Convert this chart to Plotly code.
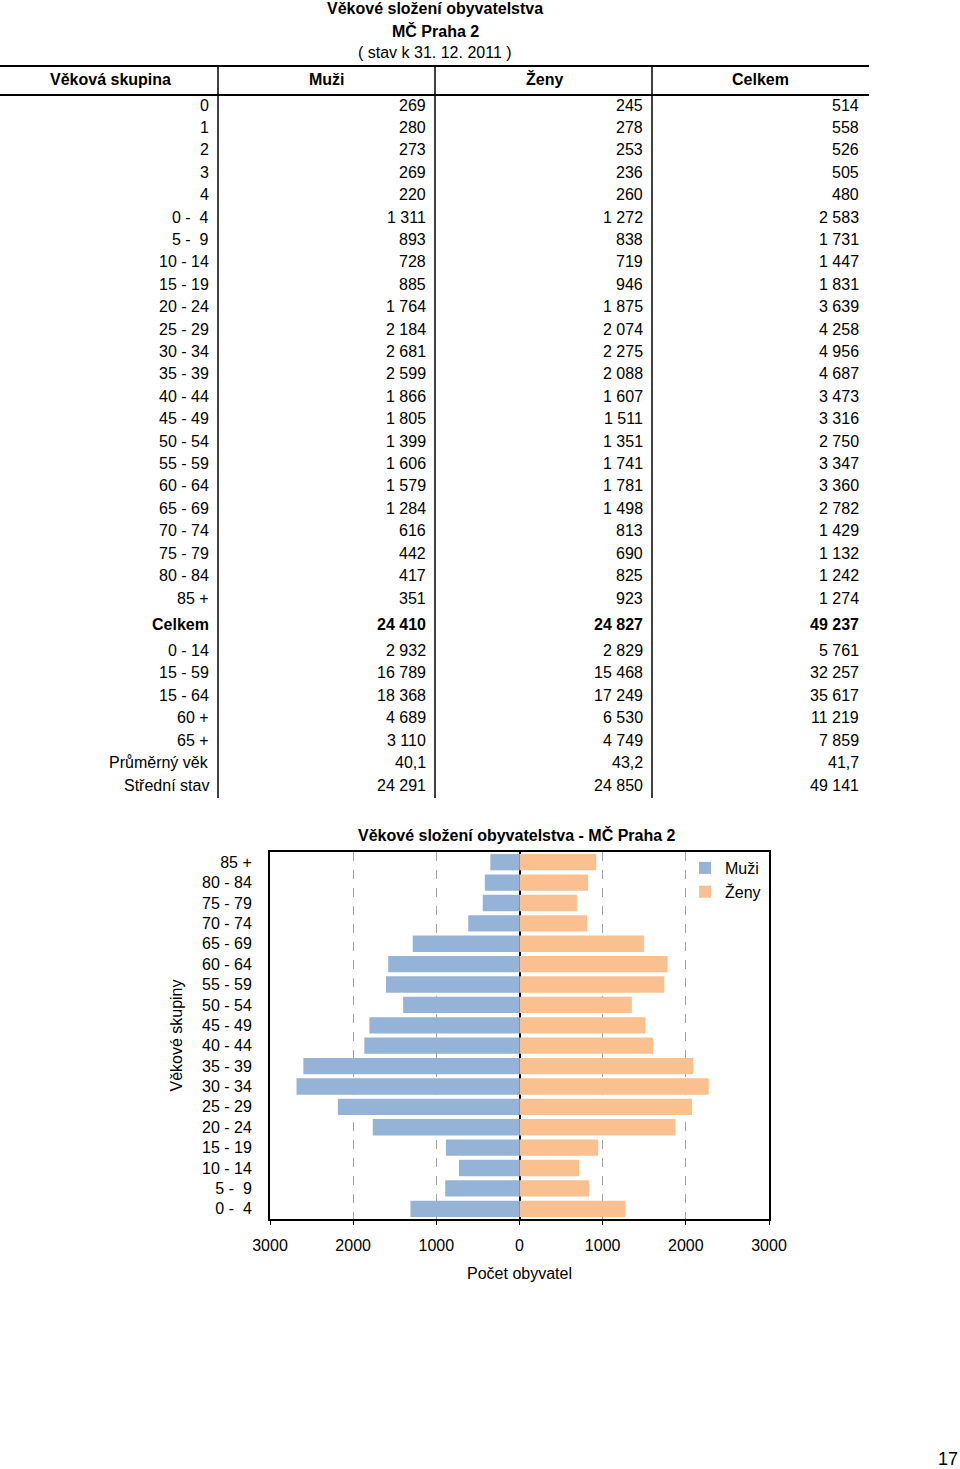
import plotly.graph_objects as go

# ---------------- data ----------------
title_lines = ["Věkové složení obyvatelstva", "MČ Praha 2", "( stav k 31. 12. 2011 )"]
header = ["Věková skupina", "Muži", "Ženy", "Celkem"]

age_labels = ["0", "1", "2", "3", "4",
              "0 -\u00a0\u00a04", "5 -\u00a0\u00a09", "10 - 14", "15 - 19", "20 - 24", "25 - 29",
              "30 - 34", "35 - 39", "40 - 44", "45 - 49", "50 - 54", "55 - 59",
              "60 - 64", "65 - 69", "70 - 74", "75 - 79", "80 - 84", "85 +"]
muzi = [269, 280, 273, 269, 220,
        1311, 893, 728, 885, 1764, 2184, 2681, 2599, 1866, 1805, 1399, 1606,
        1579, 1284, 616, 442, 417, 351]
zeny = [245, 278, 253, 236, 260,
        1272, 838, 719, 946, 1875, 2074, 2275, 2088, 1607, 1511, 1351, 1741,
        1781, 1498, 813, 690, 825, 923]
celkem = [514, 558, 526, 505, 480,
          2583, 1731, 1447, 1831, 3639, 4258, 4956, 4687, 3473, 3316, 2750, 3347,
          3360, 2782, 1429, 1132, 1242, 1274]

total_label = "Celkem"
total_muzi, total_zeny, total_celkem = 24410, 24827, 49237

summary_labels = ["0 - 14", "15 - 59", "15 - 64", "60 +", "65 +", "Průměrný věk", "Střední stav"]
summary_muzi = [2932, 16789, 18368, 4689, 3110, 40.1, 24291]
summary_zeny = [2829, 15468, 17249, 6530, 4749, 43.2, 24850]
summary_celkem = [5761, 32257, 35617, 11219, 7859, 41.7, 49141]

chart_title = "Věkové složení obyvatelstva - MČ Praha 2"
pyramid_groups = age_labels[5:]
pyramid_muzi = muzi[5:]
pyramid_zeny = zeny[5:]
x_ticks = [-3000, -2000, -1000, 0, 1000, 2000, 3000]
x_ticktext = ["3000", "2000", "1000", "0", "1000", "2000", "3000"]
page_number = "17"

# ---------------- layout helpers ----------------
W, H = 960, 1469
FONT = "Liberation Sans, Arial, sans-serif"


def px(x):
    return x / W


def py(y):
    return 1 - y / H


def fmt(v):
    if isinstance(v, float):
        return f"{v:.1f}".replace(".", ",")
    return f"{v:,}".replace(",", "\u00a0")


annotations = []
shapes = []


def txt(s, x, y, anchor="right", size=16, bold=False, color="black"):
    annotations.append(dict(
        text=f"<b>{s}</b>" if bold else s,
        x=px(x), y=py(y), xref="paper", yref="paper",
        xanchor=anchor, yanchor="middle", showarrow=False,
        font=dict(family=FONT, size=size, color=color)))


def line(x0, y0, x1, y1, width=2):
    shapes.append(dict(type="line", xref="paper", yref="paper",
                       x0=px(x0), y0=py(y0), x1=px(x1), y1=py(y1),
                       line=dict(color="black", width=width)))


# titles
txt(title_lines[0], 435, 9, anchor="center", bold=True)
txt(title_lines[1], 435, 31, anchor="center", bold=True)
txt(title_lines[2], 435, 53, anchor="center")

# header
col_centers = [110, 327, 544, 760]
for h, c in zip(header, col_centers):
    txt(h, c, 79, anchor="center", bold=True)

col_right = [211, 428, 645, 861]
row0, step = 105, 22.41
for i, lab in enumerate(age_labels):
    y = row0 + i * step
    txt(lab, col_right[0], y)
    txt(fmt(muzi[i]), col_right[1], y)
    txt(fmt(zeny[i]), col_right[2], y)
    txt(fmt(celkem[i]), col_right[3], y)

yt = 624
txt(total_label, col_right[0], yt, bold=True)
txt(fmt(total_muzi), col_right[1], yt, bold=True)
txt(fmt(total_zeny), col_right[2], yt, bold=True)
txt(fmt(total_celkem), col_right[3], yt, bold=True)

for i, lab in enumerate(summary_labels):
    y = 650 + i * 22.5
    txt(lab, col_right[0], y)
    txt(fmt(summary_muzi[i]), col_right[1], y)
    txt(fmt(summary_zeny[i]), col_right[2], y)
    txt(fmt(summary_celkem[i]), col_right[3], y)

# table lines
line(0, 66, 869, 66, 2)
line(0, 95, 869, 95, 2)
for xv in [218, 435, 652]:
    line(xv, 66, xv, 798, 1.5)

# page number
txt(page_number, 948, 1459, anchor="center", size=18)

# ---------------- pyramid ----------------
fig = go.Figure()
fig.add_trace(go.Bar(
    y=pyramid_groups, x=[-v for v in pyramid_muzi], name="Muži",
    orientation="h", marker=dict(color="#95B3D7", line=dict(width=0))))
fig.add_trace(go.Bar(
    y=pyramid_groups, x=pyramid_zeny, name="Ženy",
    orientation="h", marker=dict(color="#FAC090", line=dict(width=0))))

txt(chart_title, 517, 835, anchor="center", bold=True)

fig.update_layout(
    width=W, height=H, autosize=False,
    margin=dict(l=0, r=0, t=0, b=0, pad=0, autoexpand=False),
    paper_bgcolor="white", plot_bgcolor="white",
    font=dict(family=FONT, size=16, color="black"),
    barmode="relative", bargap=0.2,
    annotations=annotations, shapes=shapes,
    showlegend=True,
    legend=dict(x=px(685), y=py(851), xanchor="left", yanchor="top",
                bgcolor="rgba(0,0,0,0)", font=dict(size=16),
                tracegroupgap=0, itemwidth=30),
    xaxis=dict(
        domain=[px(270), px(769)], range=[-3000, 3000],
        tickvals=x_ticks, ticktext=x_ticktext, automargin=False,
        showgrid=True, gridcolor="#A0A0A0", griddash="dash", gridwidth=1.2,
        zeroline=True, zerolinecolor="black", zerolinewidth=1.5,
        showline=True, linecolor="black", linewidth=2, mirror=True,
        ticks="outside", ticklen=4, tickcolor="black",
        ticklabelstandoff=7,
        title=dict(text="Počet obyvatel", standoff=15, font=dict(size=16)),
        fixedrange=True),
    yaxis=dict(
        domain=[py(1219), py(852)], automargin=False,
        categoryorder="array", categoryarray=pyramid_groups,
        showgrid=False, zeroline=False,
        showline=True, linecolor="black", linewidth=2, mirror=True,
        ticks="", ticklabelstandoff=13,
        title=dict(text="Věkové skupiny", standoff=15, font=dict(size=16)),
        fixedrange=True),
)

fig.write_html("out.html",
               config={"displayModeBar": False},
               post_script="document.body.style.margin='0';document.body.style.overflow='hidden';")
